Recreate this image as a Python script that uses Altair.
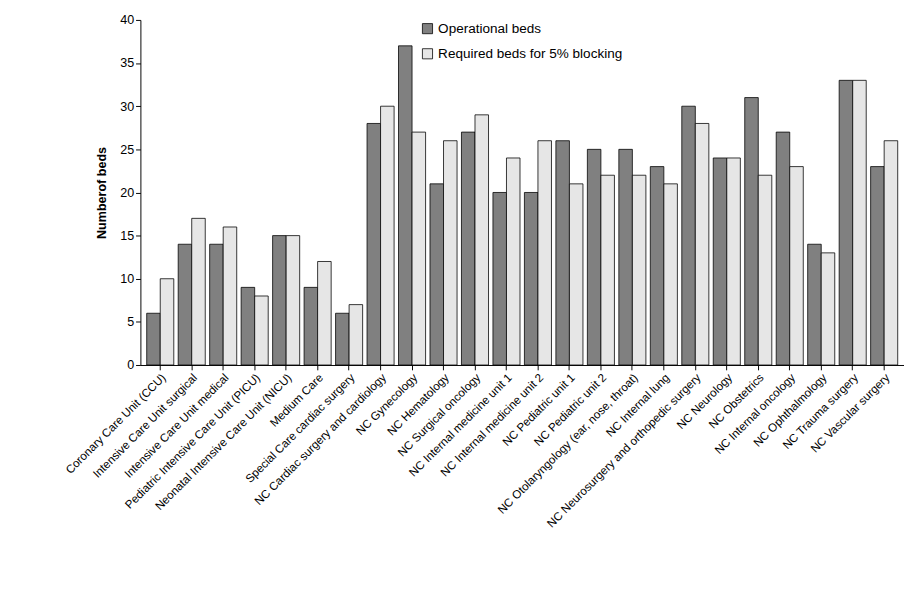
import altair as alt
import pandas as pd

units = [
    "Coronary Care Unit (CCU)", "Intensive Care Unit surgical", "Intensive Care Unit medical",
    "Pediatric Intensive Care Unit (PICU)", "Neonatal Intensive Care Unit (NICU)", "Medium Care",
    "Special Care cardiac surgery", "NC Cardiac surgery and cardiology", "NC Gynecology",
    "NC Hematology", "NC Surgical oncology", "NC Internal medicine unit 1",
    "NC Internal medicine unit 2", "NC Pediatric unit 1", "NC Pediatric unit 2",
    "NC Otolaryngology (ear, nose, throat)", "NC Internal lung",
    "NC Neurosurgery and orthopedic surgery", "NC Neurology", "NC Obstetrics",
    "NC Internal oncology", "NC Ophthalmology", "NC Trauma surgery", "NC Vascular surgery",
]
operational = [6, 14, 14, 9, 15, 9, 6, 28, 37, 21, 27, 20, 20, 26, 25, 25, 23, 30, 24, 31, 27, 14, 33, 23]
required = [10, 17, 16, 8, 15, 12, 7, 30, 27, 26, 29, 24, 26, 21, 22, 22, 21, 28, 24, 22, 23, 13, 33, 26]
series = ["Operational beds", "Required beds for 5% blocking"]

rows = []
for u, o, r in zip(units, operational, required):
    rows.append({"unit": u, "series": series[0], "beds": o})
    rows.append({"unit": u, "series": series[1], "beds": r})
df = pd.DataFrame(rows)

chart = alt.Chart(df).mark_bar(stroke="black", strokeWidth=0.8).encode(
    x=alt.X("unit:N", sort=units, title=None,
            scale=alt.Scale(paddingInner=0.14, paddingOuter=0.2),
            axis=alt.Axis(labelAngle=-45, labelAlign="right", labelBaseline="top",
                          labelFontSize=12, labelFont="Liberation Sans", labelColor="black",
                          domainColor="black", tickColor="black", labelLimit=400)),
    xOffset=alt.XOffset("series:N", sort=series),
    y=alt.Y("beds:Q", title="Numberof beds",
            scale=alt.Scale(domain=[0, 40]),
            axis=alt.Axis(values=list(range(0, 41, 5)), grid=False, labelFontSize=13,
                          labelFont="Liberation Sans", labelColor="black",
                          titleFont="Liberation Sans", titleFontSize=13, titleColor="black",
                          domainColor="black", tickColor="black", titlePadding=12)),
    fill=alt.Fill("series:N", sort=series,
                  scale=alt.Scale(domain=series, range=["#808080", "#e6e6e6"]),
                  legend=alt.Legend(title=None, orient="none", legendX=290, legendY=2,
                                    symbolType="square", symbolSize=110, symbolStrokeColor="black",
                                    symbolStrokeWidth=0.8, labelFontSize=14, rowPadding=12,
                                    labelLimit=400,
                                    labelFont="Liberation Sans", labelColor="black")),
).properties(
    width=790, height=357,
    autosize=alt.AutoSizeParams(type="none"),
    padding={"left": 137, "top": 2, "right": 0, "bottom": 240},
).configure_view(stroke=None)

chart.save("out.html", embed_options={"renderer": "svg", "actions": False})
